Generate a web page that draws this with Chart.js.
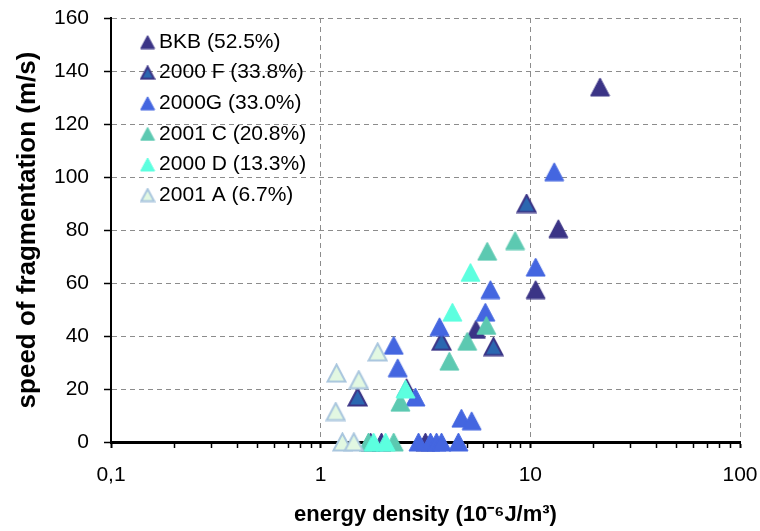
<!DOCTYPE html>
<html>
<head>
<meta charset="utf-8">
<script src="https://cdn.jsdelivr.net/npm/chart.js@4.4.0/dist/chart.umd.min.js"></script>
<style>
html,body{margin:0;padding:0;background:#ffffff;}
canvas{display:block;}
</style>
</head>
<body>
<canvas id="c" width="760" height="531"></canvas>
<script>
// ---- data ----
const seriesNames = ['BKB (52.5%)', '2000 F (33.8%)', '2000G (33.0%)', '2001 C (20.8%)', '2000 D (13.3%)', '2001 A (6.7%)'];

const bkbX   = [21.5, 13.6, 10.6, 5.5, 2.57, 1.73, 1.95, 3.16];
const bkbY   = [134, 80.5, 57.5, 42.5, 20.5, 0, 0, 0];

const f2000X = [9.6, 6.67, 3.77, 1.5];
const f2000Y = [90, 36, 38, 17];

const g2000X = [13.0, 10.6, 6.45, 6.1, 3.69, 2.23, 2.33, 2.83, 4.69, 5.25, 2.93, 3.34, 3.57, 3.77, 4.54];
const g2000Y = [102, 66, 57.5, 49, 43.5, 36.5, 28, 17, 9, 8, 0, 0, 0, 0, 0];

const c2001X = [8.46, 6.23, 6.17, 5.0, 4.11, 2.4, 1.69, 2.23];
const c2001Y = [76, 72, 44, 38, 30.5, 15, 0, 0];

const d2000X = [5.18, 4.25, 2.54, 1.79, 2.04];
const d2000Y = [64, 49, 20, 0, 0];

const a2001X = [1.19, 1.52, 1.87, 1.18, 1.27, 1.44];
const a2001Y = [26, 23.5, 34, 11.5, 0, 0];

const xTickValues = [0.1,0.2,0.3,0.4,0.5,0.6,0.7,0.8,0.9,1,2,3,4,5,6,7,8,9,10,20,30,40,50,60,70,80,90,100];
const xMajorTicks = [0.1, 1, 10, 100];
const xTickLabels = ['0,1', '1', '10', '100'];

// ---- styles ----
const fills   = ['#3B3486', '#2B67B0', '#4466E0', '#5CC9B1', '#5CFFDF', '#E2F8E2'];
const strokes = ['#3B3486', '#3B3486', '#4466E0', '#5CC9B1', '#5CFFDF', '#A9C6DE'];
const strokeW = [1, 2, 1, 1, 1, 2];

function tri(fill, stroke, lw, w, h) {
  const c = document.createElement('canvas');
  c.width = w; c.height = h;
  const g = c.getContext('2d');
  const i = lw / 2 + 0.5;
  g.beginPath();
  g.moveTo(w / 2, i);
  g.lineTo(w - i, h - i);
  g.lineTo(i, h - i);
  g.closePath();
  g.fillStyle = fill; g.fill();
  g.lineWidth = lw; g.strokeStyle = stroke; g.lineJoin = 'miter'; g.stroke();
  return c;
}
const plotMarks = fills.map((f, i) => tri(f, strokes[i], strokeW[i], 21, 20));
const legendMarks = fills.map((f, i) => tri(f, strokes[i], strokeW[i], 16, 15));

function pts(xs, ys) { return xs.map((x, i) => ({x: x, y: ys[i]})); }
const seriesData = [pts(bkbX, bkbY), pts(f2000X, f2000Y), pts(g2000X, g2000Y), pts(c2001X, c2001Y), pts(d2000X, d2000Y), pts(a2001X, a2001Y)];

const FONT = "'Liberation Sans', Arial, sans-serif";
Chart.defaults.font.family = FONT;
Chart.defaults.color = '#000';

const legendShift = {
  id: 'legendShift',
  afterLayout(chart) {
    const lg = chart.legend, ca = chart.chartArea;
    if (!lg) return;
    lg.left = 137; lg.top = 22;
    lg.right = ca.right; lg.bottom = ca.bottom;
  }
};

function noPad(s) { s.paddingLeft = 0; s.paddingRight = 0; s.paddingTop = 0; s.paddingBottom = 0; }

new Chart(document.getElementById('c'), {
  type: 'scatter',
  data: {
    datasets: seriesData.map((d, i) => ({
      label: seriesNames[i],
      data: d,
      pointStyle: plotMarks[i],
      pointRadius: 10,
      pointHoverRadius: 10,
      backgroundColor: fills[i],
      borderColor: strokes[i],
      order: 10 - i,
      clip: false
    }))
  },
  options: {
    responsive: false,
    devicePixelRatio: 1,
    animation: false,
    events: [],
    layout: { padding: { top: 18, right: 20, left: 0, bottom: 0 } },
    plugins: {
      tooltip: { enabled: false },
      legend: {
        position: 'chartArea',
        align: 'start',
        labels: {
          usePointStyle: true,
          pointStyleWidth: 2,
          padding: 9.6,
          textAlign: 'left',
          color: '#000',
          font: { size: 21, family: FONT },
          generateLabels: (chart) => chart.data.datasets.map((ds, i) => ({
            text: ds.label,
            pointStyle: legendMarks[i],
            fillStyle: fills[i],
            strokeStyle: strokes[i],
            lineWidth: 0,
            hidden: false,
            datasetIndex: i,
            fontColor: '#000'
          }))
        }
      }
    },
    scales: {
      x: {
        type: 'logarithmic',
        min: 0.1,
        max: 100,
        afterBuildTicks: (s) => { s.ticks = xTickValues.map(v => ({ value: v })); },
        afterFit: (s) => { s.height = 89; noPad(s); },
        ticks: {
          autoSkip: false,
          maxRotation: 0,
          padding: 15,
          color: '#000',
          font: { size: 21, family: FONT },
          callback: (v) => { const k = xMajorTicks.indexOf(v); return k >= 0 ? xTickLabels[k] : ''; }
        },
        grid: {
          color: (ctx) => (ctx.tick && xMajorTicks.indexOf(ctx.tick.value) > 0) ? '#8c8c8c' : 'rgba(0,0,0,0)',
          lineWidth: 1,
          tickColor: '#000',
          tickLength: 6,
          tickWidth: (ctx) => (ctx.tick && xMajorTicks.indexOf(ctx.tick.value) >= 0) ? 2 : 1.5
        },
        border: { display: true, color: '#000', width: 3, dash: [5, 4] },
        title: {
          display: true,
          text: 'energy density (10⁻⁶J/m³)',
          color: '#000',
          font: { size: 22, weight: 'bold', family: FONT },
          padding: { top: 0, bottom: 3 }
        }
      },
      y: {
        type: 'linear',
        min: 0,
        max: 160,
        afterFit: (s) => { s.width = 111; noPad(s); },
        ticks: {
          stepSize: 20,
          padding: 15,
          color: '#000',
          font: { size: 21, family: FONT }
        },
        grid: {
          color: (ctx) => (ctx.tick && ctx.tick.value === 0) ? 'rgba(0,0,0,0)' : '#8c8c8c',
          lineWidth: 1,
          tickColor: '#000',
          tickLength: 7,
          tickWidth: 1.5
        },
        border: { display: true, color: '#000', width: 2, dash: [5, 4] },
        title: {
          display: true,
          text: 'speed of fragmentation (m/s)',
          color: '#000',
          font: { size: 26, weight: 'bold', family: FONT },
          padding: { top: 12, bottom: 0 }
        }
      }
    }
  },
  plugins: [legendShift]
});
</script>
</body>
</html>
